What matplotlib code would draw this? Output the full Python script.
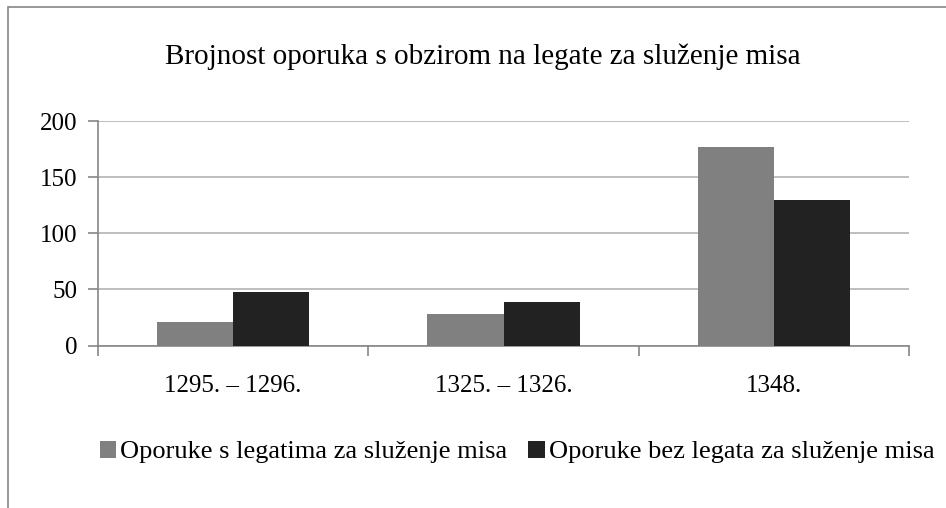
import matplotlib
matplotlib.use("Agg")
import matplotlib.pyplot as plt
import numpy as np
from matplotlib.patches import Rectangle, Patch

categories = ["1295. – 1296.", "1325. – 1326.", "1348."]
series_names = ["Oporuke s legatima za služenje misa", "Oporuke bez legata za služenje misa"]
with_legacy = [21, 28, 177]
without_legacy = [48, 39, 130]
yticks = [0, 50, 100, 150, 200]
title = "Brojnost oporuka s obzirom na legate za služenje misa"

plt.rcParams['font.family'] = ['Liberation Serif', 'DejaVu Serif']

W, H = 946, 508
fig = plt.figure(figsize=(W / 100, H / 100), dpi=100)
fig.patch.set_facecolor("white")

# outer chart border (cut at right/bottom as in reference)
fig.add_artist(Rectangle((8 / W, -0.1), 1.2, 1 - 7 / H + 0.1, transform=fig.transFigure,
                         fill=False, edgecolor="#868686", linewidth=1.2))

ax = fig.add_axes([98 / W, 1 - 345.5 / H, (909 - 98) / W, (345.5 - 121) / H])
x = np.arange(len(categories))
bw = 0.282
c1, c2 = "#808080", "#222222"
ax.bar(x - bw / 2, with_legacy, bw, color=c1, zorder=3)
ax.bar(x + bw / 2, without_legacy, bw, color=c2, zorder=3)

ax.set_xlim(-0.5, len(categories) - 0.5)
ax.set_ylim(0, 200)
ax.set_yticks(yticks)
ax.set_yticklabels([str(v) for v in yticks], fontsize=18)
ax.yaxis.grid(True, color="#b3b3b3", linewidth=1.2, zorder=0)
ax.set_axisbelow(True)

ax.set_xticks(x)
ax.set_xticklabels(categories, fontsize=18)
ax.tick_params(axis='x', which='major', length=0, pad=21)
ax.set_xticks(np.arange(-0.5, len(categories), 1.0), minor=True)
ax.tick_params(axis='x', which='minor', length=7, color="#868686", width=1.2, direction='out')
ax.tick_params(axis='y', length=7, color="#868686", width=1.2, direction='out', pad=8)

for s in ["top", "right"]:
    ax.spines[s].set_visible(False)
for s in ["left", "bottom"]:
    ax.spines[s].set_color("#868686")
    ax.spines[s].set_linewidth(1.2)

fig.text(0.51, 1 - 64 / H, title, ha="center", va="baseline", fontsize=21)

handles = [Patch(facecolor=c1, edgecolor="none"), Patch(facecolor=c2, edgecolor="none")]
fig.legend(handles, series_names, loc="center", bbox_to_anchor=(517 / W, 1 - 452 / H), ncol=2,
           frameon=False, fontsize=19, handlelength=0.62, handleheight=0.62, handletextpad=0.15,
           columnspacing=0.8)

fig.savefig("out.png", dpi=100, facecolor="white")
